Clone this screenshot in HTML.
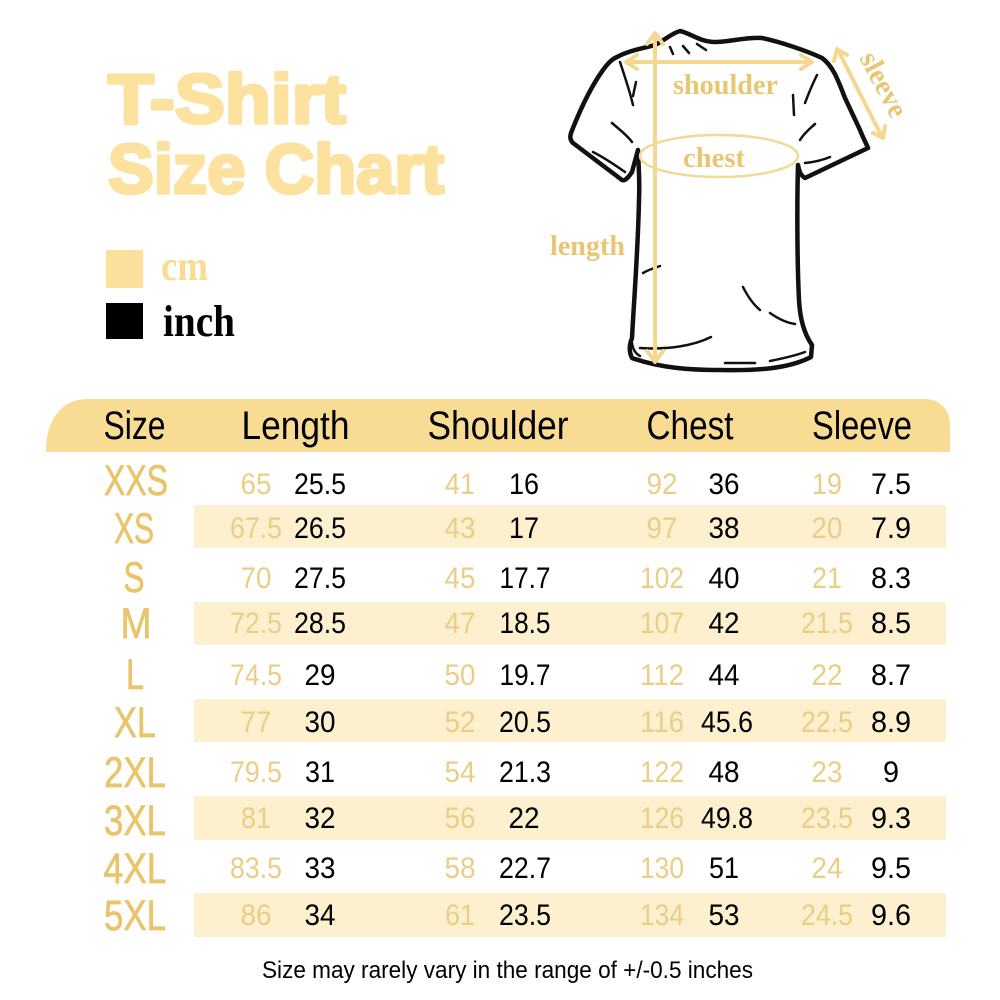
<!DOCTYPE html>
<html><head><meta charset="utf-8"><style>
html,body{margin:0;padding:0;background:#fff;}
svg{display:block;}
</style></head><body>
<svg width="1000" height="1000" viewBox="0 0 1000 1000" xmlns="http://www.w3.org/2000/svg">
<rect width="1000" height="1000" fill="#fff"/>

<!-- Title -->
<g font-family="Liberation Sans, Arial, sans-serif" font-weight="bold" fill="#fce29e" stroke="#fce29e" stroke-width="3.5" stroke-linejoin="round">
<text x="108" y="123" font-size="70" textLength="238" lengthAdjust="spacingAndGlyphs">T-Shirt</text>
<text x="108" y="193" font-size="70" textLength="336" lengthAdjust="spacingAndGlyphs">Size Chart</text>
</g>

<!-- Legend -->
<rect x="106" y="250" width="37" height="38" fill="#fbe09b"/>
<text x="161" y="280" font-family="Liberation Serif, serif" font-weight="bold" font-size="42" fill="#f9dc92" textLength="47" lengthAdjust="spacingAndGlyphs">cm</text>
<rect x="106" y="303" width="37" height="36" fill="#000"/>
<text x="163" y="336" font-family="Liberation Serif, serif" font-weight="bold" font-size="44" fill="#000" textLength="72" lengthAdjust="spacingAndGlyphs">inch</text>

<!-- T-shirt drawing -->
<g fill="none" stroke="#111" stroke-width="4.5" stroke-linejoin="round" stroke-linecap="round">
<path d="M617,57 C630,50 645,48 655,45 C665,40 672,33 680,31 C690,33 700,42 715,42 C730,42 745,37 762,38 C780,42 805,50 822,58 C833,66 838,80 845,98 L860,130 C864,140 867,145 868,148 L805,178 C800,175 799,170 798,165 C797,200 797,260 799,300 C800,320 805,335 812,345 L811,357 C790,368 760,371 720,370 C690,370 660,368 632,358 C628,350 630,343 632,338 C634,300 638,250 639,200 C640,175 638,160 638,150 L632,172 C628,178 625,181 622,180 L573,143 C570,140 570,136 571,133 C578,115 590,88 603,70 C608,63 612,59 617,57 Z"/>
</g>
<g fill="none" stroke="#111" stroke-width="2.5" stroke-linecap="round">
<path d="M620,62 C626,80 630,92 633,105"/>
<path d="M636,82 L633,96"/>
<path d="M612,123 C620,130 627,135 632,142"/>
<path d="M593,152 C605,158 615,165 625,172"/>
<path d="M670,47 L673,54"/>
<path d="M683,46 L689,53"/>
<path d="M697,44 L706,50"/>
<path d="M817,75 C812,85 808,95 805,103"/>
<path d="M793,95 L794,115"/>
<path d="M815,124 C808,130 803,135 800,140"/>
<path d="M805,163 C815,162 823,160 830,157"/>
<path d="M643,273 C648,270 654,268 660,266"/>
<path d="M743,287 C748,297 754,305 760,310"/>
<path d="M770,313 C780,320 788,323 795,324"/>
<path d="M640,348 C670,350 695,345 711,337"/>
<path d="M725,363 L755,363"/>
<path d="M770,361 C785,358 797,355 805,352"/>
<path d="M632,343 C633,350 636,354 640,356"/>
</g>

<!-- Measurement annotations -->
<g stroke="#f5d88f" stroke-width="4" fill="none" stroke-linecap="round" stroke-linejoin="round">
<line x1="655" y1="34" x2="655" y2="361"/>
<polyline points="647,44 655,33 663,44"/>
<polyline points="647,351 655,362 663,351"/>
<line x1="627" y1="62" x2="811" y2="62"/>
<polyline points="637,55 626,62 637,69"/>
<polyline points="801,55 812,62 801,69"/>
<line x1="838" y1="50" x2="882" y2="137"/>
<polyline points="834,61 837,49 847,55"/>
<polyline points="873,133 883,138 885,126"/>
</g>
<ellipse cx="719" cy="156" rx="79" ry="21" fill="none" stroke="#f3d996" stroke-width="2.5"/>
<g font-family="Liberation Serif, serif" font-weight="bold" font-size="29" fill="#e9c672">
<text x="673" y="94" textLength="105" lengthAdjust="spacingAndGlyphs">shoulder</text>
<text x="683" y="167" textLength="62" lengthAdjust="spacingAndGlyphs">chest</text>
<text x="550" y="255" textLength="75" lengthAdjust="spacingAndGlyphs">length</text>
<text x="859" y="58" transform="rotate(62 859 58)" textLength="70" lengthAdjust="spacingAndGlyphs">sleeve</text>
</g>

<!-- Header band -->
<path d="M46,452 L46,446 C48,418 62,399 88,399 H925 C940,399 950,410 950,425 V452 Z" fill="#f8dc93"/>
<g font-family="Liberation Sans, Arial, sans-serif" font-size="40" fill="#000" text-anchor="middle">
<text x="134.5" y="439" textLength="62" lengthAdjust="spacingAndGlyphs">Size</text>
<text x="295.5" y="439" textLength="108" lengthAdjust="spacingAndGlyphs">Length</text>
<text x="498" y="439" textLength="141" lengthAdjust="spacingAndGlyphs">Shoulder</text>
<text x="690" y="439" textLength="87" lengthAdjust="spacingAndGlyphs">Chest</text>
<text x="862" y="439" textLength="100" lengthAdjust="spacingAndGlyphs">Sleeve</text>
</g>

<!-- Stripes -->
<g fill="#fdf0cf">
<rect x="194" y="505" width="752" height="43"/>
<rect x="194" y="602" width="752" height="43"/>
<rect x="194" y="699" width="752" height="43"/>
<rect x="194" y="796" width="752" height="44"/>
<rect x="194" y="893" width="752" height="44"/>
</g>

<!-- Size labels -->
<g font-family="Liberation Sans, Arial, sans-serif" font-size="43" fill="#eac46b" stroke="#eac46b" stroke-width="0.7" text-anchor="middle">
<text x="136" y="495" textLength="64" lengthAdjust="spacingAndGlyphs">XXS</text>
<text x="134" y="543" textLength="40" lengthAdjust="spacingAndGlyphs">XS</text>
<text x="134" y="592" textLength="21" lengthAdjust="spacingAndGlyphs">S</text>
<text x="136" y="638" textLength="31" lengthAdjust="spacingAndGlyphs">M</text>
<text x="135" y="689" textLength="18" lengthAdjust="spacingAndGlyphs">L</text>
<text x="135" y="737" textLength="42" lengthAdjust="spacingAndGlyphs">XL</text>
<text x="135" y="787" textLength="62" lengthAdjust="spacingAndGlyphs">2XL</text>
<text x="135" y="835" textLength="62" lengthAdjust="spacingAndGlyphs">3XL</text>
<text x="135" y="883" textLength="63" lengthAdjust="spacingAndGlyphs">4XL</text>
<text x="135" y="930" textLength="62" lengthAdjust="spacingAndGlyphs">5XL</text>
</g>

<!-- cm values -->
<g font-family="Liberation Sans, Arial, sans-serif" font-size="30" fill="#ebcd85" text-anchor="middle">
<text x="256" y="494" textLength="31" lengthAdjust="spacingAndGlyphs">65</text>
<text x="256" y="538" textLength="52" lengthAdjust="spacingAndGlyphs">67.5</text>
<text x="256" y="588" textLength="31" lengthAdjust="spacingAndGlyphs">70</text>
<text x="256" y="633" textLength="52" lengthAdjust="spacingAndGlyphs">72.5</text>
<text x="256" y="685" textLength="52" lengthAdjust="spacingAndGlyphs">74.5</text>
<text x="256" y="732" textLength="31" lengthAdjust="spacingAndGlyphs">77</text>
<text x="256" y="782" textLength="52" lengthAdjust="spacingAndGlyphs">79.5</text>
<text x="256" y="828" textLength="30" lengthAdjust="spacingAndGlyphs">81</text>
<text x="256" y="878" textLength="52" lengthAdjust="spacingAndGlyphs">83.5</text>
<text x="256" y="925" textLength="31" lengthAdjust="spacingAndGlyphs">86</text>

<text x="460" y="494" textLength="30" lengthAdjust="spacingAndGlyphs">41</text>
<text x="460" y="538" textLength="31" lengthAdjust="spacingAndGlyphs">43</text>
<text x="460" y="588" textLength="31" lengthAdjust="spacingAndGlyphs">45</text>
<text x="460" y="633" textLength="31" lengthAdjust="spacingAndGlyphs">47</text>
<text x="460" y="685" textLength="31" lengthAdjust="spacingAndGlyphs">50</text>
<text x="460" y="732" textLength="31" lengthAdjust="spacingAndGlyphs">52</text>
<text x="460" y="782" textLength="31" lengthAdjust="spacingAndGlyphs">54</text>
<text x="460" y="828" textLength="31" lengthAdjust="spacingAndGlyphs">56</text>
<text x="460" y="878" textLength="31" lengthAdjust="spacingAndGlyphs">58</text>
<text x="460" y="925" textLength="30" lengthAdjust="spacingAndGlyphs">61</text>

<text x="662" y="494" textLength="31" lengthAdjust="spacingAndGlyphs">92</text>
<text x="662" y="538" textLength="31" lengthAdjust="spacingAndGlyphs">97</text>
<text x="662" y="588" textLength="44" lengthAdjust="spacingAndGlyphs">102</text>
<text x="662" y="633" textLength="44" lengthAdjust="spacingAndGlyphs">107</text>
<text x="662" y="685" textLength="44" lengthAdjust="spacingAndGlyphs">112</text>
<text x="662" y="732" textLength="44" lengthAdjust="spacingAndGlyphs">116</text>
<text x="662" y="782" textLength="44" lengthAdjust="spacingAndGlyphs">122</text>
<text x="662" y="828" textLength="44" lengthAdjust="spacingAndGlyphs">126</text>
<text x="662" y="878" textLength="44" lengthAdjust="spacingAndGlyphs">130</text>
<text x="662" y="925" textLength="44" lengthAdjust="spacingAndGlyphs">134</text>

<text x="827" y="494" textLength="30" lengthAdjust="spacingAndGlyphs">19</text>
<text x="827" y="538" textLength="31" lengthAdjust="spacingAndGlyphs">20</text>
<text x="827" y="588" textLength="30" lengthAdjust="spacingAndGlyphs">21</text>
<text x="827" y="633" textLength="52" lengthAdjust="spacingAndGlyphs">21.5</text>
<text x="827" y="685" textLength="31" lengthAdjust="spacingAndGlyphs">22</text>
<text x="827" y="732" textLength="52" lengthAdjust="spacingAndGlyphs">22.5</text>
<text x="827" y="782" textLength="31" lengthAdjust="spacingAndGlyphs">23</text>
<text x="827" y="828" textLength="52" lengthAdjust="spacingAndGlyphs">23.5</text>
<text x="827" y="878" textLength="31" lengthAdjust="spacingAndGlyphs">24</text>
<text x="827" y="925" textLength="52" lengthAdjust="spacingAndGlyphs">24.5</text>
</g>

<!-- inch values -->
<g font-family="Liberation Sans, Arial, sans-serif" font-size="30" fill="#000" text-anchor="middle">
<text x="320" y="494" textLength="52" lengthAdjust="spacingAndGlyphs">25.5</text>
<text x="320" y="538" textLength="52" lengthAdjust="spacingAndGlyphs">26.5</text>
<text x="320" y="588" textLength="52" lengthAdjust="spacingAndGlyphs">27.5</text>
<text x="320" y="633" textLength="52" lengthAdjust="spacingAndGlyphs">28.5</text>
<text x="320" y="685" textLength="31" lengthAdjust="spacingAndGlyphs">29</text>
<text x="320" y="732" textLength="31" lengthAdjust="spacingAndGlyphs">30</text>
<text x="320" y="782" textLength="30" lengthAdjust="spacingAndGlyphs">31</text>
<text x="320" y="828" textLength="31" lengthAdjust="spacingAndGlyphs">32</text>
<text x="320" y="878" textLength="31" lengthAdjust="spacingAndGlyphs">33</text>
<text x="320" y="925" textLength="31" lengthAdjust="spacingAndGlyphs">34</text>

<text x="524" y="494" textLength="30" lengthAdjust="spacingAndGlyphs">16</text>
<text x="524" y="538" textLength="30" lengthAdjust="spacingAndGlyphs">17</text>
<text x="525" y="588" textLength="51" lengthAdjust="spacingAndGlyphs">17.7</text>
<text x="525" y="633" textLength="51" lengthAdjust="spacingAndGlyphs">18.5</text>
<text x="525" y="685" textLength="51" lengthAdjust="spacingAndGlyphs">19.7</text>
<text x="525" y="732" textLength="52" lengthAdjust="spacingAndGlyphs">20.5</text>
<text x="525" y="782" textLength="52" lengthAdjust="spacingAndGlyphs">21.3</text>
<text x="524" y="828" textLength="31" lengthAdjust="spacingAndGlyphs">22</text>
<text x="525" y="878" textLength="52" lengthAdjust="spacingAndGlyphs">22.7</text>
<text x="525" y="925" textLength="52" lengthAdjust="spacingAndGlyphs">23.5</text>

<text x="724" y="494" textLength="31" lengthAdjust="spacingAndGlyphs">36</text>
<text x="724" y="538" textLength="31" lengthAdjust="spacingAndGlyphs">38</text>
<text x="724" y="588" textLength="31" lengthAdjust="spacingAndGlyphs">40</text>
<text x="724" y="633" textLength="31" lengthAdjust="spacingAndGlyphs">42</text>
<text x="724" y="685" textLength="31" lengthAdjust="spacingAndGlyphs">44</text>
<text x="727" y="732" textLength="52" lengthAdjust="spacingAndGlyphs">45.6</text>
<text x="724" y="782" textLength="31" lengthAdjust="spacingAndGlyphs">48</text>
<text x="727" y="828" textLength="52" lengthAdjust="spacingAndGlyphs">49.8</text>
<text x="724" y="878" textLength="30" lengthAdjust="spacingAndGlyphs">51</text>
<text x="724" y="925" textLength="31" lengthAdjust="spacingAndGlyphs">53</text>

<text x="891" y="494" textLength="40" lengthAdjust="spacingAndGlyphs">7.5</text>
<text x="891" y="538" textLength="40" lengthAdjust="spacingAndGlyphs">7.9</text>
<text x="891" y="588" textLength="40" lengthAdjust="spacingAndGlyphs">8.3</text>
<text x="891" y="633" textLength="40" lengthAdjust="spacingAndGlyphs">8.5</text>
<text x="891" y="685" textLength="40" lengthAdjust="spacingAndGlyphs">8.7</text>
<text x="891" y="732" textLength="40" lengthAdjust="spacingAndGlyphs">8.9</text>
<text x="891" y="782" textLength="16" lengthAdjust="spacingAndGlyphs">9</text>
<text x="891" y="828" textLength="40" lengthAdjust="spacingAndGlyphs">9.3</text>
<text x="891" y="878" textLength="40" lengthAdjust="spacingAndGlyphs">9.5</text>
<text x="891" y="925" textLength="40" lengthAdjust="spacingAndGlyphs">9.6</text>
</g>

<!-- Footer -->
<text x="262" y="978" font-family="Liberation Sans, Arial, sans-serif" font-size="24" fill="#000" textLength="491" lengthAdjust="spacingAndGlyphs">Size may rarely vary in the range of +/-0.5 inches</text>
</svg>
</body></html>
